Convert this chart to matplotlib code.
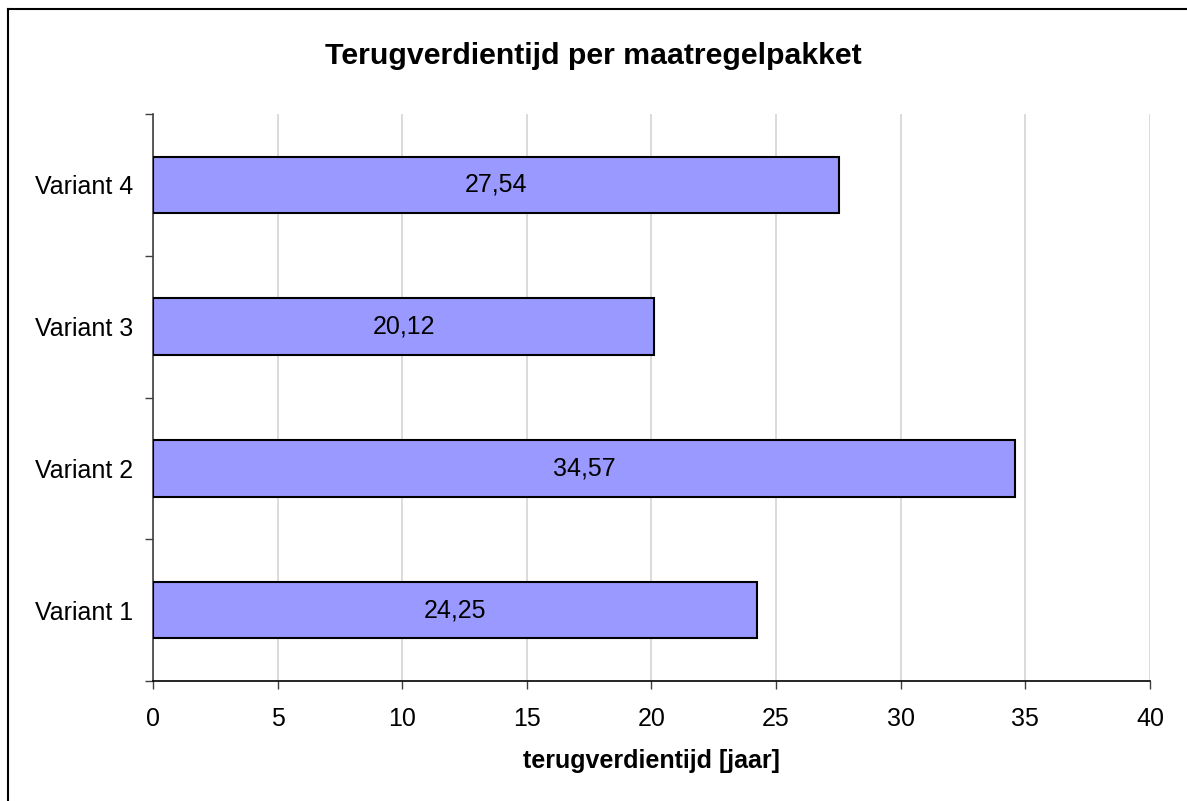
import matplotlib.pyplot as plt
from matplotlib.lines import Line2D
from matplotlib.ticker import MultipleLocator, FixedLocator

plt.rcParams['font.family'] = ['Liberation Sans', 'DejaVu Sans']

# data
varianten = ['Variant 1', 'Variant 2', 'Variant 3', 'Variant 4']
terugverdientijd = [24.25, 34.57, 20.12, 27.54]
labels = ['24,25', '34,57', '20,12', '27,54']

fig = plt.figure(figsize=(11.87, 8.01), dpi=100)
ax = fig.add_axes([153 / 1187, 1 - 681 / 801, (1150 - 153) / 1187, (681 - 114) / 801])

ypos = list(range(len(varianten)))
bars = ax.barh(ypos, terugverdientijd, height=0.4, color='#9999ff',
               edgecolor='black', linewidth=1.5, zorder=3)
for b, lab in zip(bars, labels):
    ax.text(b.get_width() / 2, b.get_y() + b.get_height() / 2, lab,
            ha='center', va='center', fontsize=18, zorder=4)

ax.set_xlim(0, 40)
ax.set_ylim(-0.5, 3.5)
ax.xaxis.set_major_locator(MultipleLocator(5))
ax.set_yticks(ypos)
ax.set_yticklabels(varianten)
ax.yaxis.set_minor_locator(FixedLocator([-0.5, 0.5, 1.5, 2.5, 3.5]))
ax.tick_params(axis='y', which='major', length=0, pad=14, labelsize=18)
ax.tick_params(axis='y', which='minor', length=6, width=1, color='#404040', direction='out')
ax.tick_params(axis='x', which='major', length=6, width=1, color='#404040',
               pad=12.5, labelsize=18)

ax.grid(axis='x', color='#d4d4d4', linewidth=1.2, zorder=0)
for s in ['top', 'right']:
    ax.spines[s].set_visible(False)
ax.spines['left'].set_color('#404040')
ax.spines['bottom'].set_color('black')
ax.spines['left'].set_linewidth(1.2)
ax.spines['bottom'].set_linewidth(1.2)

ax.set_xlabel('terugverdientijd [jaar]', fontsize=18, fontweight='bold', labelpad=13)
fig.text(0.5, 1 - 56 / 801, 'Terugverdientijd per maatregelpakket',
         ha='center', va='center', fontsize=21.8, fontweight='bold')

# chart frame (only top and left visible)
fig.add_artist(Line2D([8 / 1187, 1], [1 - 9 / 801, 1 - 9 / 801], color='black', linewidth=1.5))
fig.add_artist(Line2D([8 / 1187, 8 / 1187], [0, 1 - 9 / 801], color='black', linewidth=1.5))

plt.savefig('out.png', dpi=100)
